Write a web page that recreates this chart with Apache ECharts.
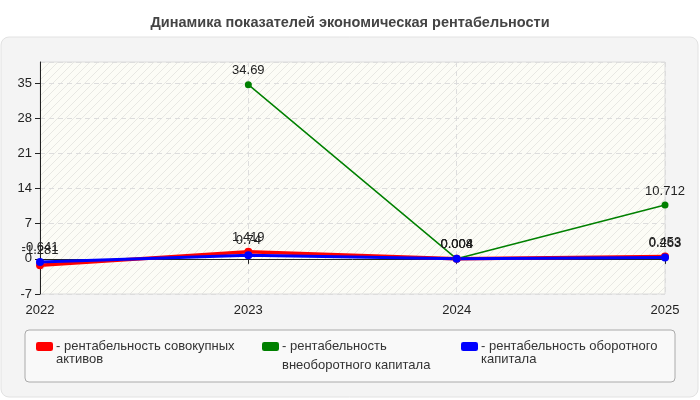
<!DOCTYPE html>
<html>
<head>
<meta charset="utf-8">
<script src="https://cdn.jsdelivr.net/npm/echarts@6/dist/echarts.min.js"></script>
<style>
html,body{margin:0;padding:0;background:#fff;}
#chart{width:700px;height:400px;}
</style>
</head>
<body>
<div id="chart"></div>
<script>
// данные графика
var years = ['2022', '2023', '2024', '2025'];
var assetsVals = [-1.281, 1.419, 0.008, 0.453];
var fixedVals = [null, 34.69, 0.004, 10.712];
var currentVals = [-0.641, 0.74, 0.004, 0.263];
var seriesNames = [
    'рентабельность совокупных активов',
    'рентабельность внеоборотного капитала',
    'рентабельность оборотного капитала'
];
// пустая первая строка - чтобы значок стоял на уровне первой строки текста
var legendTexts = [
    '\n- рентабельность совокупных\nактивов',
    '{s| }\n- рентабельность\n{g|внеоборотного капитала}',
    '\n- рентабельность оборотного\nкапитала'
];

// штриховка фона области графика
function hatch(){
    var c = document.createElement('canvas');
    c.width = 8; c.height = 8;
    var ctx = c.getContext('2d');
    ctx.fillStyle = '#fcfcf6';
    ctx.fillRect(0, 0, 8, 8);
    ctx.strokeStyle = '#e8e8e3';
    ctx.lineWidth = 1;
    ctx.beginPath();
    ctx.moveTo(0, 8); ctx.lineTo(8, 0);
    ctx.moveTo(-4, 4); ctx.lineTo(4, -4);
    ctx.moveTo(4, 12); ctx.lineTo(12, 4);
    ctx.stroke();
    return {image: c, repeat: 'repeat'};
}

var mychart = echarts.init(document.getElementById('chart'));
var lbl = {show: true, position: 'top', color: '#222', fontSize: 13, fontFamily: 'Arial', distance: 4};

function legendAt(i, x, top){
    return {
        left: x - 5, top: top,
        data: [seriesNames[i]],
        icon: 'roundRect',
        itemWidth: 17, itemHeight: 9,
        itemGap: 0,
        selectedMode: false,
        formatter: function(){ return legendTexts[i]; },
        textStyle: {color: '#333', fontSize: 13, fontFamily: 'Arial', lineHeight: 13, padding: [0, 0, 0, -2],
            rich: {
                s: {fontSize: 13, lineHeight: 19},
                g: {color: '#333', fontSize: 13, fontFamily: 'Arial', lineHeight: 19, verticalAlign: 'bottom'}
            }}
    };
}

var option = {
    backgroundColor: '#fff',
    animation: false,
    title: {
        text: 'Динамика показателей экономическая рентабельности',
        left: 'center', top: 10,
        textStyle: {fontSize: 14.5, fontWeight: 'bold', color: '#444', fontFamily: 'Arial'}
    },
    graphic: [
        {type: 'rect', z: -10, shape: {x: 1, y: 37, width: 697, height: 360, r: 8},
            style: {fill: '#f4f4f4', stroke: '#e2e2e2', lineWidth: 1}},
        {type: 'rect', z: -9, shape: {x: 25, y: 330, width: 650, height: 52, r: 4},
            style: {fill: '#f9f9f9', stroke: '#aaaaaa', lineWidth: 1}}
    ],
    grid: {
        left: 40, right: 35, top: 62, bottom: 106,
        show: true, backgroundColor: hatch(), borderColor: '#dcdcdc', borderWidth: 1
    },
    legend: [legendAt(0, 36, 322), legendAt(1, 262, 316), legendAt(2, 461, 322)],
    xAxis: {
        type: 'category',
        data: years,
        boundaryGap: false,
        axisLine: {lineStyle: {color: '#222'}},
        axisTick: {show: true, length: 5, lineStyle: {color: '#222'}},
        axisLabel: {color: '#222', fontSize: 13, fontFamily: 'Arial', margin: 10},
        splitLine: {show: true, lineStyle: {color: '#dddddd', type: [5, 4]}}
    },
    yAxis: {
        type: 'value',
        min: -7, max: 39.2, interval: 7,
        axisLine: {show: true, lineStyle: {color: '#222'}},
        axisTick: {show: true, length: 5, lineStyle: {color: '#222'}},
        axisLabel: {color: '#222', fontSize: 13, fontFamily: 'Arial', margin: 8,
            showMaxLabel: false},
        splitLine: {show: true, lineStyle: {color: '#dddddd', type: [5, 4]}}
    },
    series: [
        {
            name: seriesNames[0], type: 'line', data: assetsVals,
            color: '#ff0000', lineStyle: {width: 3.5}, symbol: 'circle', symbolSize: 8,
            label: lbl
        },
        {
            name: seriesNames[1], type: 'line', data: fixedVals,
            color: '#008000', lineStyle: {width: 1.5}, symbol: 'circle', symbolSize: 7,
            label: lbl
        },
        {
            name: seriesNames[2], type: 'line', data: currentVals,
            color: '#0000ff', lineStyle: {width: 3}, symbol: 'circle', symbolSize: 8,
            label: lbl
        }
    ]
};
mychart.setOption(option);
</script>
</body>
</html>
